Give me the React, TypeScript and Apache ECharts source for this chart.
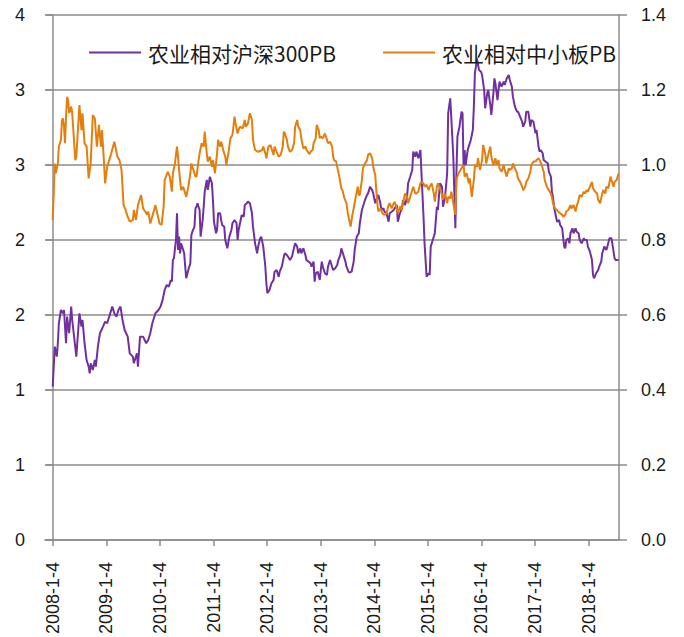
import React, { useEffect, useRef } from "react";
import * as echarts from "echarts";

// Weekly series: week index counted from 2008-1-4 (week 0)
const START_UTC = Date.UTC(2008, 0, 4);
const DAY_MS = 86400000;
const WEEK_MS = 7 * DAY_MS;

const seriesNames = ["农业相对沪深300PB", "农业相对中小板PB"];
const tickYears = [2008, 2009, 2010, 2011, 2012, 2013, 2014, 2015, 2016, 2017, 2018];
const leftTickSteps = [0, 1, 2, 3, 4, 5, 6, 7]; // left axis 0..4 split in 7 parts
const rightAxisLabels = ["0.0", "0.2", "0.4", "0.6", "0.8", "1.0", "1.2", "1.4"];

// 农业相对沪深300PB : [week, value]  (left axis)
const hs300: number[][] = [
  [0,1.168],[2,1.473],[4,1.397],[5,1.499],[6,1.651],[8,1.752],[10,1.727],[11,1.752],[12,1.625],[13,1.499],[14,1.701],[16,1.575],[18,1.778],[19,1.676],[23,1.397],[26,1.727],[28,1.625],[29,1.676],[31,1.499],[33,1.371],[35,1.320],[36,1.270],[37,1.346],[39,1.295],[41,1.371],[42,1.320],[44,1.473],[46,1.575],[49,1.625],[51,1.663],[53,1.651],[55,1.701],[58,1.778],[60,1.727],[62,1.701],[64,1.752],[66,1.778],[68,1.676],[70,1.600],[73,1.549],[75,1.422],[78,1.397],[79,1.346],[82,1.422],[83,1.320],[85,1.549],[88,1.549],[91,1.499],[93,1.524],[95,1.575],[97,1.651],[100,1.727],[103,1.752],[105,1.778],[107,1.829],[109,1.905],[111,1.943],[113,1.930],[115,1.981],[116,1.968],[117,2.133],[118,2.146],[120,2.286],[121,2.489],[122,2.210],[123,2.311],[124,2.184],[125,2.260],[126,2.235],[128,2.184],[129,2.082],[130,1.994],[132,2.057],[134,2.108],[135,2.324],[136,2.349],[138,2.387],[139,2.527],[140,2.539],[141,2.565],[142,2.539],[143,2.514],[144,2.311],[146,2.438],[147,2.539],[148,2.654],[150,2.743],[151,2.667],[152,2.718],[153,2.768],[155,2.718],[156,2.590],[157,2.425],[159,2.337],[160,2.362],[161,2.489],[163,2.489],[164,2.438],[165,2.400],[167,2.387],[168,2.286],[170,2.222],[172,2.311],[174,2.362],[175,2.413],[177,2.438],[179,2.413],[180,2.286],[181,2.362],[183,2.438],[184,2.476],[186,2.463],[187,2.552],[189,2.565],[190,2.578],[192,2.565],[194,2.489],[195,2.387],[197,2.260],[199,2.184],[200,2.235],[202,2.298],[203,2.311],[205,2.235],[207,2.082],[208,1.956],[209,1.880],[211,1.905],[213,1.956],[215,1.981],[216,2.044],[218,2.057],[220,2.006],[221,2.044],[223,2.082],[225,2.159],[226,2.184],[228,2.171],[229,2.159],[231,2.133],[233,2.159],[234,2.197],[236,2.260],[238,2.235],[239,2.184],[241,2.222],[242,2.184],[244,2.222],[246,2.171],[247,2.133],[249,2.121],[251,2.108],[252,2.082],[254,2.121],[255,1.968],[256,2.032],[258,2.044],[260,1.981],[261,2.057],[262,2.121],[263,2.082],[265,2.032],[267,2.019],[268,2.082],[270,2.133],[272,2.082],[273,2.057],[275,2.070],[277,2.095],[278,2.133],[280,2.171],[281,2.222],[283,2.171],[285,2.121],[286,2.082],[288,2.044],[289,2.037],[291,2.044],[293,2.121],[294,2.210],[296,2.311],[298,2.337],[299,2.413],[301,2.514],[302,2.539],[304,2.590],[306,2.629],[307,2.641],[309,2.692],[311,2.667],[312,2.641],[314,2.565],[315,2.590],[317,2.629],[319,2.565],[320,2.514],[322,2.527],[323,2.501],[325,2.489],[327,2.425],[328,2.489],[330,2.501],[332,2.514],[333,2.527],[335,2.552],[336,2.425],[338,2.489],[340,2.527],[341,2.590],[343,2.552],[345,2.616],[346,2.718],[348,2.768],[350,2.819],[351,2.959],[353,2.920],[354,2.959],[356,2.908],[358,2.971],[359,2.794],[361,2.463],[362,2.260],[364,2.006],[366,2.032],[367,2.019],[368,2.235],[370,2.286],[372,2.337],[374,2.539],[375,2.514],[377,2.718],[379,2.692],[380,2.539],[382,2.616],[384,2.794],[385,3.251],[387,3.365],[388,3.225],[390,2.920],[392,2.375],[393,2.794],[394,3.073],[396,3.149],[398,3.263],[399,3.251],[400,2.844],[401,2.971],[402,2.857],[404,2.971],[405,2.997],[407,3.048],[409,3.124],[410,3.301],[411,3.556],[412,3.606],[413,3.670],[415,3.581],[417,3.568],[418,3.543],[420,3.429],[421,3.289],[423,3.403],[424,3.429],[426,3.314],[427,3.238],[429,3.403],[430,3.517],[431,3.479],[433,3.352],[434,3.429],[435,3.492],[437,3.454],[439,3.492],[440,3.467],[442,3.517],[444,3.543],[445,3.505],[447,3.454],[448,3.378],[450,3.301],[452,3.263],[453,3.263],[455,3.225],[457,3.187],[458,3.149],[460,3.187],[461,3.263],[463,3.263],[465,3.149],[466,3.200],[468,3.187],[470,3.099],[471,3.124],[473,2.997],[474,2.959],[475,2.971],[477,2.946],[478,2.895],[480,2.882],[482,2.870],[483,2.806],[485,2.768],[486,2.654],[487,2.616],[488,2.539],[490,2.463],[491,2.425],[493,2.438],[494,2.400],[496,2.375],[497,2.298],[498,2.235],[499,2.222],[500,2.286],[502,2.298],[503,2.260],[504,2.337],[506,2.375],[507,2.337],[509,2.375],[510,2.349],[512,2.337],[513,2.286],[515,2.260],[517,2.298],[518,2.286],[520,2.286],[521,2.235],[523,2.197],[525,2.133],[526,2.019],[527,1.994],[529,2.032],[531,2.057],[532,2.082],[534,2.121],[535,2.184],[537,2.235],[539,2.210],[540,2.235],[542,2.298],[544,2.298],[545,2.248],[547,2.146],[548,2.133],[549,2.133],[551,2.133]
];

// 农业相对中小板PB : [week, value]  (right axis)
const sme: number[][] = [
  [0,0.853],[1,0.924],[2,1.004],[3,0.978],[5,1.004],[6,1.049],[8,1.067],[9,1.120],[10,1.124],[11,1.102],[12,1.058],[13,1.129],[14,1.182],[15,1.173],[16,1.138],[18,1.156],[19,1.138],[22,1.013],[23,1.022],[26,1.160],[28,1.093],[29,1.138],[31,1.058],[33,1.049],[35,0.964],[37,1.004],[39,1.133],[41,1.124],[43,1.049],[45,1.107],[47,1.049],[48,1.093],[50,1.004],[51,0.951],[53,0.995],[57,1.031],[60,1.062],[63,1.022],[65,1.013],[67,0.987],[69,0.893],[71,0.880],[73,0.862],[75,0.849],[78,0.853],[79,0.880],[81,0.853],[83,0.893],[86,0.920],[88,0.884],[90,0.876],[92,0.867],[93,0.876],[95,0.844],[100,0.893],[104,0.844],[106,0.840],[108,0.889],[109,0.960],[112,0.982],[114,0.969],[116,0.929],[117,0.978],[119,1.004],[121,1.049],[122,1.022],[123,0.987],[125,0.933],[127,0.942],[129,0.924],[130,0.915],[132,0.942],[134,0.978],[135,1.004],[137,0.987],[139,0.969],[140,0.969],[142,1.013],[143,1.031],[145,1.058],[147,1.049],[148,1.089],[150,1.031],[151,1.009],[153,1.022],[155,0.995],[156,1.013],[158,0.978],[160,1.031],[161,1.067],[163,1.049],[164,1.062],[166,1.040],[168,1.022],[169,1.000],[171,1.031],[173,1.071],[175,1.080],[177,1.129],[178,1.111],[180,1.084],[182,1.102],[185,1.098],[187,1.120],[188,1.102],[190,1.111],[192,1.138],[194,1.120],[195,1.067],[197,1.040],[200,1.035],[204,1.040],[205,1.049],[207,1.031],[208,1.018],[210,1.049],[212,1.053],[215,1.027],[216,1.049],[218,1.035],[220,1.022],[222,1.027],[224,1.049],[225,1.089],[226,1.084],[228,1.067],[229,1.049],[231,1.035],[233,1.040],[235,1.058],[236,1.102],[238,1.120],[239,1.102],[241,1.093],[242,1.071],[244,1.044],[246,1.049],[247,1.040],[250,1.029],[251,1.035],[253,1.040],[254,1.058],[256,1.071],[257,1.107],[259,1.093],[260,1.071],[261,1.076],[263,1.071],[265,1.084],[267,1.067],[268,1.058],[270,1.062],[272,1.049],[273,1.022],[274,1.013],[276,1.009],[277,0.995],[279,0.969],[281,0.938],[282,0.933],[284,0.911],[286,0.898],[287,0.876],[288,0.862],[290,0.836],[292,0.871],[293,0.884],[295,0.915],[297,0.942],[298,0.920],[299,0.920],[301,0.960],[302,0.991],[304,1.004],[306,1.013],[307,1.027],[309,1.031],[311,1.018],[312,0.995],[314,0.973],[315,0.933],[316,0.898],[317,0.876],[319,0.884],[321,0.871],[323,0.867],[325,0.871],[327,0.893],[328,0.898],[330,0.884],[332,0.898],[333,0.902],[335,0.884],[336,0.871],[338,0.889],[340,0.880],[341,0.898],[343,0.924],[345,0.915],[346,0.898],[348,0.915],[350,0.933],[351,0.942],[353,0.924],[354,0.924],[356,0.929],[358,0.951],[359,0.955],[361,0.951],[362,0.942],[364,0.947],[366,0.933],[367,0.942],[369,0.951],[371,0.924],[372,0.902],[374,0.942],[375,0.951],[377,0.938],[379,0.920],[380,0.907],[382,0.924],[384,0.898],[385,0.915],[387,0.911],[388,0.929],[390,0.898],[392,0.867],[393,0.960],[395,0.978],[396,0.982],[398,0.991],[400,1.000],[401,0.969],[403,0.978],[405,0.951],[406,0.964],[408,0.915],[410,0.960],[411,1.000],[413,0.995],[414,1.018],[416,0.987],[418,1.013],[419,1.053],[421,1.031],[422,1.004],[424,1.027],[426,1.049],[427,1.022],[429,1.000],[431,1.018],[432,1.000],[434,1.013],[435,0.991],[437,0.982],[439,1.000],[440,0.987],[442,0.969],[444,0.991],[445,0.987],[447,0.991],[448,1.004],[450,0.991],[452,0.978],[453,0.964],[455,0.955],[457,0.942],[458,0.933],[460,0.942],[461,0.955],[463,0.964],[465,0.982],[466,1.000],[468,1.009],[470,1.009],[471,1.013],[473,1.018],[474,1.013],[476,1.000],[478,0.982],[479,0.960],[481,0.942],[483,0.933],[484,0.929],[486,0.915],[487,0.898],[489,0.884],[491,0.880],[492,0.876],[494,0.871],[496,0.867],[497,0.862],[499,0.867],[500,0.876],[502,0.880],[504,0.893],[505,0.884],[507,0.893],[509,0.876],[510,0.889],[512,0.907],[513,0.920],[515,0.915],[517,0.929],[518,0.924],[520,0.933],[521,0.929],[523,0.942],[525,0.955],[526,0.938],[528,0.929],[530,0.924],[531,0.907],[533,0.898],[535,0.924],[536,0.933],[538,0.924],[539,0.942],[541,0.938],[543,0.969],[544,0.960],[546,0.942],[547,0.955],[549,0.960],[551,0.978]
];

const PURPLE = "#7030A0";
const ORANGE = "#E47F0E";
const GRAY = "#8C8C8C";
const TEXT = "#1a1a1a";
const AXIS_FONT = "'Liberation Sans', Arial, sans-serif";
const CJK_FONT = "'Noto Sans CJK SC', 'Liberation Sans', sans-serif";

function weekOf(utc: number) {
  return (utc - START_UTC) / WEEK_MS;
}
function labelOfWeek(w: number) {
  const d = new Date(START_UTC + Math.round(w * 7) * DAY_MS);
  return `${d.getUTCFullYear()}-${d.getUTCMonth() + 1}-${d.getUTCDate()}`;
}

export default function App() {
  const ref = useRef<HTMLDivElement>(null);
  useEffect(() => {
    if (!ref.current) return;
    const chart = echarts.init(ref.current, undefined, { renderer: "svg" });
    const yearWeeks = tickYears.map((y) => weekOf(Date.UTC(y, 0, 4)));
    const leftTicks = leftTickSteps.map((k) => (k * 4) / 7);
    chart.setOption({
      animation: false,
      backgroundColor: "#ffffff",
      grid: { left: 45, right: 65, top: 15, bottom: 97, containLabel: false },
      legend: {
        data: seriesNames.map((n) => ({ name: n, icon: "rect" })),
        left: 84,
        top: 37,
        itemWidth: 52,
        itemHeight: 2,
        itemGap: 47,
        textStyle: { fontSize: 21, color: TEXT, fontFamily: CJK_FONT, padding: [0, 0, 0, 2] },
      },
      xAxis: {
        type: "value",
        min: -7.5,
        max: 551.3,
        axisLine: { show: true, onZero: true, lineStyle: { color: GRAY, width: 1.5 } },
        axisTick: { show: true, length: 6, customValues: yearWeeks, lineStyle: { color: GRAY, width: 1.5 } },
        axisLabel: {
          customValues: yearWeeks,
          rotate: 90,
          margin: 22,
          fontSize: 18,
          color: TEXT,
          fontFamily: AXIS_FONT,
          formatter: (v: number) => labelOfWeek(v),
        },
        splitLine: { show: false },
      },
      yAxis: [
        {
          type: "value",
          min: 0,
          max: 4,
          position: "left",
          axisLine: { show: true, onZero: true, lineStyle: { color: GRAY, width: 1.5 } },
          axisTick: { show: true, length: 7, customValues: leftTicks, lineStyle: { color: GRAY, width: 1.5 } },
          axisLabel: {
            customValues: leftTicks,
            margin: 20,
            fontSize: 18,
            color: TEXT,
            fontFamily: AXIS_FONT,
            formatter: (v: number) => String(Math.round(v)),
          },
          splitLine: { show: false },
        },
        {
          type: "value",
          min: 0,
          max: 1.4,
          interval: 0.2,
          position: "right",
          axisLine: { show: true, onZero: false, lineStyle: { color: GRAY, width: 1.5 } },
          axisTick: { show: true, length: 8, lineStyle: { color: GRAY, width: 1.5 } },
          axisLabel: {
            margin: 22,
            fontSize: 18,
            color: TEXT,
            fontFamily: AXIS_FONT,
            formatter: (v: number) => rightAxisLabels[Math.round(v / 0.2)] ?? v.toFixed(1),
          },
          splitLine: { show: true, lineStyle: { color: GRAY, width: 1.5 } },
        },
      ],
      series: [
        {
          name: seriesNames[0],
          type: "line",
          yAxisIndex: 0,
          data: hs300,
          symbol: "none",
          lineStyle: { color: PURPLE, width: 2 },
          itemStyle: { color: PURPLE },
        },
        {
          name: seriesNames[1],
          type: "line",
          yAxisIndex: 1,
          data: sme,
          symbol: "none",
          lineStyle: { color: ORANGE, width: 2 },
          itemStyle: { color: ORANGE },
        },
      ],
    });
    return () => chart.dispose();
  }, []);
  return (
    <div
      ref={ref}
      style={{ position: "fixed", left: 0, top: 0, width: 684, height: 637, background: "#fff" }}
    />
  );
}
